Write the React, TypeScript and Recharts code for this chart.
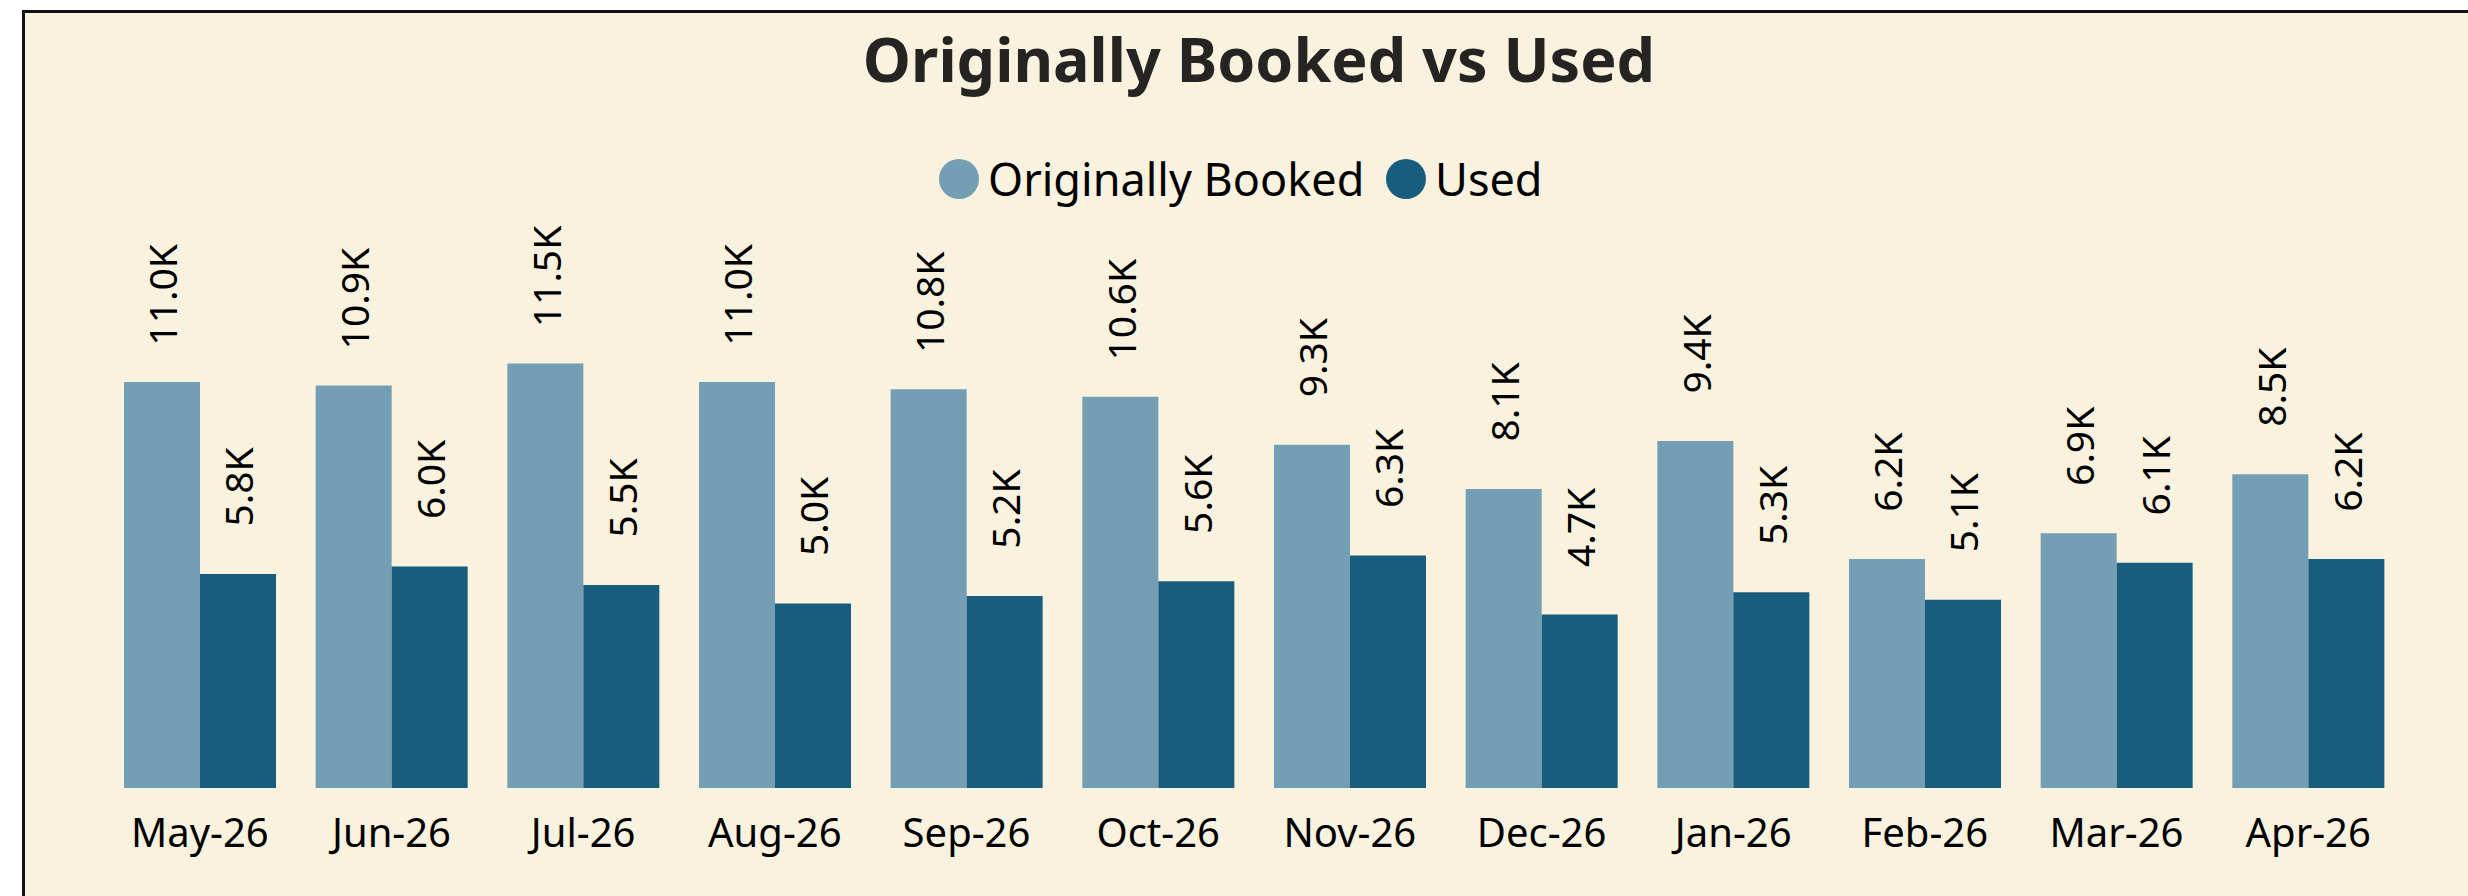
import React from "react";
import { BarChart, Bar, XAxis, YAxis } from "recharts";

// values (thousands)
const months = ["May-26", "Jun-26", "Jul-26", "Aug-26", "Sep-26", "Oct-26", "Nov-26", "Dec-26", "Jan-26", "Feb-26", "Mar-26", "Apr-26"];
const originallyBooked = [11.0, 10.9, 11.5, 11.0, 10.8, 10.6, 9.3, 8.1, 9.4, 6.2, 6.9, 8.5];
const used = [5.8, 6.0, 5.5, 5.0, 5.2, 5.6, 6.3, 4.7, 5.3, 5.1, 6.1, 6.2];

const LIGHT = "#749EB3";
const DARK = "#185D7D";
const BG = "#F9F2DE";
const FONT = "'Noto Sans', 'Open Sans', sans-serif";

const data = months.map((m, i) => ({
  month: m,
  booked: originallyBooked[i] * 1000,
  used: used[i] * 1000,
}));

function fmtK(v: unknown) {
  const n = typeof v === "number" ? v : Number(v);
  return Number.isFinite(n) ? (n / 1000).toFixed(1) + "K" : "";
}

// rotated label centred a fixed distance above the bar top
const VertLabel = (props: any) => {
  const { x, y, width, value } = props;
  const cx = x + width / 2;
  const cy = y - 87;
  return (
    <text
      x={cx}
      y={cy}
      transform={`rotate(-90, ${cx}, ${cy})`}
      textAnchor="middle"
      dominantBaseline="central"
      fontFamily={FONT}
      fontSize={39}
      fill="#000"
    >
      {fmtK(value)}
    </text>
  );
};

export default function App() {
  return (
    <div style={{ position: "absolute", left: 0, top: 0, width: 2468, height: 896, background: "#fff", overflow: "hidden" }}>
      {/* card frame, runs off the right and bottom edges */}
      <div
        style={{
          position: "absolute",
          left: 22,
          top: 10,
          width: 2600,
          height: 1000,
          border: "3px solid #111",
          background: BG,
        }}
      />

      {/* title + legend */}
      <svg width={2468} height={896} style={{ position: "absolute", left: 0, top: 0 }}>
        <text x={1259} y={82} textAnchor="middle" fontFamily={FONT} fontWeight={700} fontSize={61} fill="#252423">
          Originally Booked vs Used
        </text>
        <circle cx={959} cy={179} r={20} fill={LIGHT} />
        <text x={988} y={196} fontFamily={FONT} fontSize={45} fill="#000">
          Originally Booked
        </text>
        <circle cx={1406} cy={179} r={20} fill={DARK} />
        <text x={1435} y={196} fontFamily={FONT} fontSize={45} fill="#000">
          Used
        </text>
      </svg>

      <div style={{ position: "absolute", left: 0, top: 0 }}>
        <BarChart
          width={2468}
          height={896}
          data={data}
          margin={{ top: 345, right: 64, bottom: 48, left: 104 }}
          barGap={0}
        >
          <XAxis
            dataKey="month"
            height={60}
            axisLine={false}
            tickLine={false}
            tickMargin={25}
            interval={0}
            tick={{ fontSize: 40, fill: "#000", fontFamily: FONT }}
          />
          <YAxis hide domain={[0, 12000]} />
          <Bar dataKey="booked" name="Originally Booked" fill={LIGHT} barSize={76} isAnimationActive={false} label={<VertLabel />} />
          <Bar dataKey="used" name="Used" fill={DARK} barSize={76} isAnimationActive={false} label={<VertLabel />} />
        </BarChart>
      </div>
    </div>
  );
}
